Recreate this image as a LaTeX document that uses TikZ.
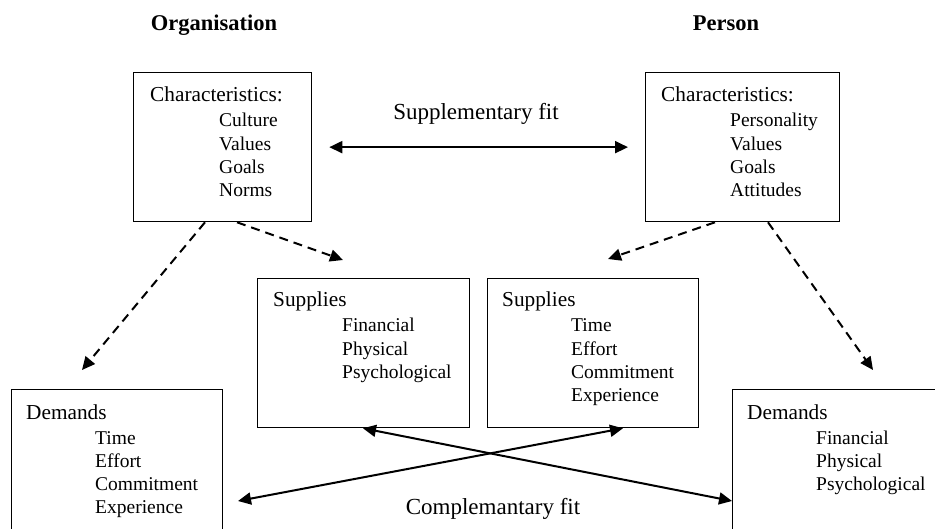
\documentclass[tikz,border=0pt]{standalone}
\usepackage{fontspec}
\setmainfont{Liberation Serif}
\usetikzlibrary{arrows.meta}
\begin{document}
\begin{tikzpicture}[x=1bp,y=-1bp,
  box/.style={draw, line width=1.3bp, inner sep=0pt, anchor=north west},
  head/.style={font=\fontsize{22.5bp}{26bp}\selectfont\bfseries, inner sep=0pt, anchor=base},
  ttl/.style={font=\fontsize{21.3bp}{25bp}\selectfont, inner sep=0pt, anchor=base west},
  txt/.style={font=\fontsize{19.5bp}{23.3bp}\selectfont, inner sep=0pt, anchor=base west},
  lbl/.style={font=\fontsize{23bp}{27bp}\selectfont, inner sep=0pt, anchor=base},
  fitarrow/.style={{Triangle[length=13bp,width=12bp]}-{Triangle[length=13bp,width=12bp]}, line width=2bp},
  dasharrow/.style={-{Triangle[length=13bp,width=12bp]}, line width=2bp, dash pattern=on 9bp off 6bp},
]
\useasboundingbox (0,0) rectangle (935,529);
\clip (0,0) rectangle (935,529);

% a titled list inside a box: name, title x, title baseline, title, item x, items
\newcommand\boxtext[6]{%
  \node[ttl] (#1-t) at (#2,#3) {#4};
  \foreach \t [count=\i] in {#6}
    \node[txt] (#1-\i) at (#5,{#3+25+23.3*(\i-1)}) {\t};}

% column headings
\node[head] (org) at (214,31) {Organisation};
\node[head] (per) at (726,31) {Person};

% boxes
\node[box, minimum width=178bp, minimum height=149bp] (oc) at (133,72) {};
\node[box, minimum width=194bp, minimum height=149bp] (pc) at (645,72) {};
\node[box, minimum width=212bp, minimum height=149bp] (sl) at (257,278) {};
\node[box, minimum width=211bp, minimum height=149bp] (sr) at (487,278) {};
\node[box, minimum width=211bp, minimum height=160bp] (dl) at (11,389) {};
\node[box, minimum width=220bp, minimum height=160bp] (dr) at (732,389) {};

% box contents
\boxtext{oct}{150}{102}{Characteristics:}{219}{Culture,Values,Goals,Norms}
\boxtext{pct}{661}{102}{Characteristics:}{730}{Personality,Values,Goals,Attitudes}
\boxtext{slt}{273}{307}{Supplies}{342}{Financial,Physical,Psychological}
\boxtext{srt}{502}{307}{Supplies}{571}{Time,Effort,Commitment,Experience}
\boxtext{dlt}{26}{419}{Demands}{95}{Time,Effort,Commitment,Experience}
\boxtext{drt}{747}{419}{Demands}{816}{Financial,Physical,Psychological}

% supplementary fit
\node[lbl] (supfit) at (476,120) {Supplementary fit};
\draw[fitarrow, shorten <=17bp, shorten >=17bp] (oc.east) -- (pc.west);

% characteristics feed supplies and demands
\coordinate (tDL) at (82,370);
\coordinate (tSL) at (343,260);
\coordinate (tSR) at (608,259);
\coordinate (tDR) at (873,370);
\draw[dasharrow] ([xshift=72bp]oc.south west) -- (tDL);
\draw[dasharrow] ([xshift=104bp]oc.south west) -- (tSL);
\draw[dasharrow] ([xshift=70bp]pc.south west) -- (tSR);
\draw[dasharrow] ([xshift=123bp]pc.south west) -- (tDR);

% complementary fit
\coordinate (dlR) at (238,501);
\draw[fitarrow] ([xshift=106bp]sl.south west) -- (dr.west |- dlR);
\draw[fitarrow] (dlR) -- ([xshift=136bp]sr.south west);
\node[lbl] (compfit) at (493,514) {Complemantary fit};
\end{tikzpicture}
\end{document}
